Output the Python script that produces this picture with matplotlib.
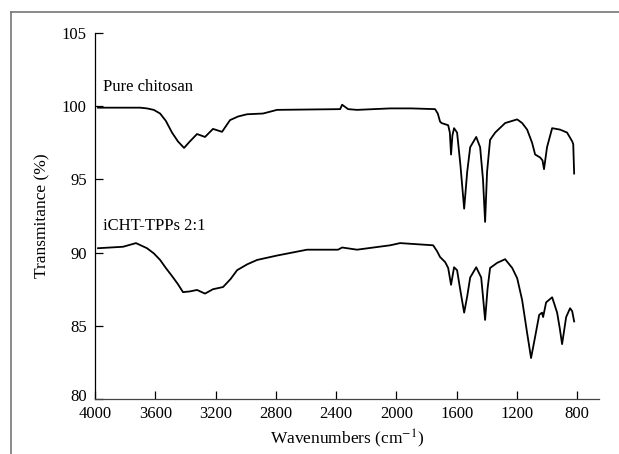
import matplotlib.pyplot as plt
from matplotlib.lines import Line2D
from matplotlib.transforms import ScaledTranslation

plt.rcParams['font.family'] = ['Liberation Serif', 'DejaVu Serif']
plt.rcParams['mathtext.fontset'] = 'stix'

# FTIR spectra (wavenumber in cm-1, transmittance in %)
chitosan_wn = [3980, 3700, 3655, 3610, 3568, 3530, 3489, 3450, 3409, 3370,
               3323, 3270, 3217, 3157, 3104, 3050, 2991, 2885, 2792, 2373,
               2360, 2320, 2261, 2041, 1900, 1743, 1725, 1710, 1700, 1656,
               1645, 1637, 1628, 1617, 1597, 1575, 1550, 1530, 1510, 1470,
               1444, 1425, 1411, 1398, 1378, 1344, 1278, 1198, 1165, 1132,
               1099, 1079, 1046, 1030, 1020, 1000, 966, 913, 867, 833,
               826, 820]
chitosan_t = [99.9, 99.9, 99.85, 99.75, 99.5, 99.0, 98.2, 97.6, 97.15, 97.6,
              98.1, 97.9, 98.45, 98.25, 99.05, 99.3, 99.45, 99.5, 99.75, 99.8,
              100.1, 99.8, 99.75, 99.85, 99.85, 99.8, 99.5, 98.95, 98.85, 98.7,
              98.2, 96.7, 98.0, 98.5, 98.2, 96.0, 93.0, 95.5, 97.2, 97.9,
              97.2, 95.0, 92.1, 95.5, 97.7, 98.2, 98.85, 99.1, 98.85, 98.4,
              97.5, 96.7, 96.5, 96.3, 95.7, 97.2, 98.5, 98.4, 98.2, 97.6,
              97.4, 95.4]

ichitosan_wn = [3980, 3814, 3728, 3655, 3610, 3568, 3530, 3489, 3450, 3416,
                3370, 3323, 3270, 3217, 3150, 3100, 3057, 2990, 2924, 2792,
                2593, 2387, 2360, 2261, 2041, 1975, 1756, 1730, 1710, 1676,
                1656, 1637, 1617, 1597, 1575, 1550, 1530, 1510, 1470, 1437,
                1425, 1411, 1395, 1378, 1331, 1278, 1231, 1198, 1165, 1132,
                1106, 1079, 1052, 1033, 1026, 1006, 966, 933, 915, 900,
                873, 847, 833, 820]
ichitosan_t = [90.3, 90.4, 90.65, 90.3, 89.95, 89.5, 88.95, 88.4, 87.85, 87.3,
               87.35, 87.45, 87.2, 87.5, 87.65, 88.2, 88.8, 89.2, 89.5, 89.8,
               90.2, 90.2, 90.35, 90.2, 90.5, 90.65, 90.5, 90.1, 89.7, 89.35,
               88.95, 87.8, 89.0, 88.8, 87.4, 85.9, 87.0, 88.3, 89.0, 88.3,
               87.0, 85.4, 87.5, 88.95, 89.3, 89.55, 88.95, 88.25, 86.75, 84.5,
               82.8, 84.25, 85.75, 85.9, 85.6, 86.6, 86.95, 85.9, 84.8, 83.75,
               85.6, 86.2, 86.0, 85.3]

x_ticks = [4000, 3600, 3200, 2800, 2400, 2000, 1600, 1200, 800]
y_ticks = [80, 85, 90, 95, 100, 105]

fig = plt.figure(figsize=(6.19, 4.54), dpi=100)
ax = fig.add_axes([0.1535, 0.1211, 0.8142, 0.8062])

ax.plot(chitosan_wn, chitosan_t, color='black', lw=1.3)
ax.plot(ichitosan_wn, ichitosan_t, color='black', lw=1.3)

ax.text(3950, 101.3, 'Pure chitosan', fontsize=12, va='center', ha='left')
ax.text(3950, 91.85, 'iCHT-TPPs 2:1', fontsize=12, va='center', ha='left')

ax.set_xlim(4000, 655)
ax.set_ylim(80, 105)
ax.set_xticks(x_ticks)
ax.set_yticks(y_ticks)
ax.tick_params(direction='in', length=6, width=0.9, labelsize=12)
ax.tick_params(axis='x', pad=5)
ax.tick_params(axis='y', pad=6)
for lbl in ax.get_yticklabels():
    lbl.set_verticalalignment('center_baseline')

# nudge the bottom y label up so it clears the first x label
lowest = ax.get_yticklabels()[0]
lowest.set_transform(lowest.get_transform() + ScaledTranslation(0, 3 / 72, fig.dpi_scale_trans))

for side in ['top', 'right']:
    ax.spines[side].set_visible(False)
for side in ['left', 'bottom']:
    ax.spines[side].set_linewidth(0.9)
ax.spines['bottom'].set_color('#444444')

ax.set_xlabel('Wavenumbers (cm$^{-1}$)', fontsize=12.5, labelpad=4)
ax.set_ylabel('Transmitance (%)', fontsize=12.5, labelpad=8)

# thin grey frame along the left and top edges
fig.add_artist(Line2D([0.018, 0.018], [0.0, 0.974], color='#777777', lw=1.2))
fig.add_artist(Line2D([0.018, 1.0], [0.974, 0.974], color='#777777', lw=1.2))

fig.savefig('out.png', dpi=100)
